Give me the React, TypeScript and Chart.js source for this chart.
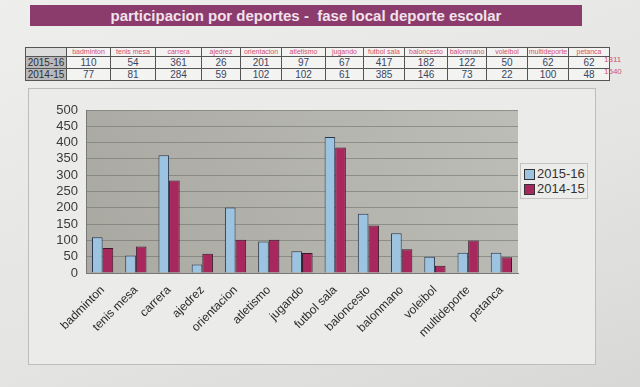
import React, { useEffect, useRef } from "react";
import { Chart, registerables } from "chart.js";
Chart.register(...registerables);

const categories = ["badminton", "tenis mesa", "carrera", "ajedrez", "orientacion", "atletismo", "jugando", "futbol sala", "baloncesto", "balonmano", "voleibol", "multideporte", "petanca"];
const seriesNames = ["2015-16", "2014-15"];
const values1516 = [110, 54, 361, 26, 201, 97, 67, 417, 182, 122, 50, 62, 62];
const values1415 = [77, 81, 284, 59, 102, 102, 61, 385, 146, 73, 22, 100, 48];
const totals = [1811, 1540];
const yTicks = [0, 50, 100, 150, 200, 250, 300, 350, 400, 450, 500];

const colWidths = [43, 44, 45, 38, 40, 43, 37, 40, 42, 38, 40, 40, 40];
const BLUE = "#9cc3df";
const RED = "#a8275c";
const FONT = "'Liberation Sans', Arial, sans-serif";

const plotBg = {
  id: "plotBg",
  beforeDraw(chart: any) {
    const { ctx, chartArea: a } = chart;
    ctx.save();
    const g = ctx.createLinearGradient(a.left, a.bottom, a.right, a.top);
    g.addColorStop(0, "#a9a9a2");
    g.addColorStop(1, "#bdbdb7");
    ctx.fillStyle = g;
    ctx.fillRect(a.left, a.top, a.right - a.left, a.bottom - a.top);
    ctx.restore();
  },
};

export default function App() {
  const ref = useRef<HTMLCanvasElement>(null);
  useEffect(() => {
    const chart = new Chart(ref.current!, {
      type: "bar",
      data: {
        labels: categories,
        datasets: [
          { label: seriesNames[0], data: values1516, backgroundColor: BLUE, borderColor: "#2a3550", borderWidth: 1, barPercentage: 1, categoryPercentage: 0.64 },
          { label: seriesNames[1], data: values1415, backgroundColor: RED, borderColor: "#3a1a2a", borderWidth: 1, barPercentage: 1, categoryPercentage: 0.64 },
        ],
      },
      options: {
        animation: false,
        responsive: false,
        layout: { padding: { top: 22, right: 10, left: 0, bottom: 0 } },
        plugins: { legend: { display: false }, tooltip: { enabled: false } },
        scales: {
          x: {
            grid: { display: false, drawTicks: true },
            border: { color: "#777" },
            ticks: { color: "#2a2a2a", font: { family: FONT, size: 12 }, maxRotation: 45, minRotation: 45, autoSkip: false, padding: 2 },
            afterFit(scale: any) { scale.height = 90; },
          },
          y: {
            min: 0,
            max: 500,
            afterBuildTicks(scale: any) { scale.ticks = yTicks.map((v) => ({ value: v })); },
            grid: { color: "rgba(110,110,105,0.55)", drawTicks: false },
            border: { color: "#777" },
            ticks: { color: "#3a3a3a", font: { family: FONT, size: 13 }, padding: 8, autoSkip: false },
            afterFit(scale: any) { scale.width = 58; },
          },
        },
      },
      plugins: [plotBg],
    });
    return () => chart.destroy();
  }, []);

  const cellBorder = "1px solid #555";
  return (
    <div style={{ position: "fixed", left: 0, top: 0, width: 640, height: 387, overflow: "hidden", background: "linear-gradient(160deg, #eeeeec 0%, #e4e4e2 60%, #d8d8d6 100%)", fontFamily: FONT }}>
      <div style={{ position: "absolute", left: 30, top: 5, width: 552, height: 21, background: "#8b3b6c", color: "#f1e2ec", fontWeight: "bold", fontSize: 15, lineHeight: "21px", textAlign: "center", whiteSpace: "pre" }}>
        {"participacion por deportes -  fase local deporte escolar"}
      </div>
      <table style={{ position: "absolute", left: 25, top: 47, borderCollapse: "collapse", tableLayout: "fixed", background: "#f3f3f2" }}>
        <tbody>
          <tr style={{ height: 9 }}>
            <td style={{ width: 40, border: cellBorder, padding: 0, background: "#dcdcdc" }}></td>
            {categories.map((c, i) => (
              <td key={c} style={{ width: colWidths[i], border: cellBorder, padding: 0, fontSize: 7, lineHeight: "8px", color: "#d4506e", textAlign: "center", whiteSpace: "nowrap", overflow: "hidden" }}>{c}</td>
            ))}
          </tr>
          {[values1516, values1415].map((vals, r) => (
            <tr key={r} style={{ height: 12 }}>
              <td style={{ border: cellBorder, padding: 0, background: "#b9b9b9", fontSize: 10, lineHeight: "11px", color: "#2a3040", textAlign: "center" }}>{seriesNames[r]}</td>
              {vals.map((v, i) => (
                <td key={i} style={{ border: cellBorder, padding: 0, fontSize: 10, lineHeight: "11px", color: "#3a4660", textAlign: "center" }}>{v}</td>
              ))}
            </tr>
          ))}
        </tbody>
      </table>
      {totals.map((t, i) => (
        <div key={i} style={{ position: "absolute", left: 604, top: 55 + i * 12, fontSize: 8, lineHeight: "10px", color: "#d4506e" }}>{t}</div>
      ))}
      <div style={{ position: "absolute", left: 28, top: 88, width: 566, height: 275, border: "1px solid #bdbdbb", background: "#ebebe9" }}></div>
      <canvas ref={ref} width={500} height={275} style={{ position: "absolute", left: 28, top: 88, width: 500, height: 275 }} />
      <div style={{ position: "absolute", left: 520, top: 163, width: 66, height: 34, border: "1px solid #c4c4c2", background: "#ececea", fontSize: 13, color: "#333" }}>
        {seriesNames.map((n, i) => (
          <div key={n} style={{ position: "absolute", left: 3, top: 3 + i * 15, display: "flex", alignItems: "center", lineHeight: "14px" }}>
            <span style={{ display: "inline-block", width: 9, height: 9, background: i === 0 ? BLUE : RED, border: "1px solid #333", marginRight: 2 }}></span>
            {n}
          </div>
        ))}
      </div>
    </div>
  );
}
